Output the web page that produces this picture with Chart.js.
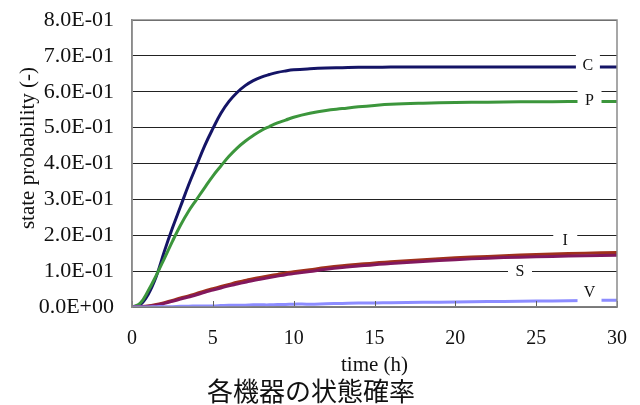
<!DOCTYPE html>
<html>
<head>
<meta charset="utf-8">
<script src="https://cdn.jsdelivr.net/npm/chart.js@4/dist/chart.umd.min.js"></script>
<style>
html,body{margin:0;padding:0;background:#fff;}
#wrap{width:640px;height:405px;position:relative;}
</style>
</head>
<body>
<div id="wrap"><canvas id="c" width="640" height="405"></canvas></div>
<script>
// ---- data ----
const timeH = [0,0.5,1,1.5,2,2.5,3,3.5,4,4.5,5,5.5,6,6.5,7,7.5,8,8.5,9,9.5,10,11,12,13,14,15,16,18,20,22,24,26,28,30];
const seriesC = [0,0.006,0.035,0.085,0.155,0.22,0.28,0.34,0.395,0.45,0.497,0.54,0.573,0.598,0.617,0.631,0.641,0.648,0.654,0.658,0.661,0.664,0.666,0.667,0.668,0.668,0.669,0.669,0.669,0.669,0.669,0.669,0.669,0.669];
const seriesP = [0,0.01,0.045,0.088,0.135,0.183,0.228,0.267,0.30,0.333,0.365,0.393,0.42,0.443,0.462,0.478,0.492,0.503,0.513,0.521,0.529,0.540,0.548,0.553,0.558,0.562,0.565,0.568,0.570,0.571,0.572,0.572,0.573,0.573];
const seriesI = [0,0.001,0.003,0.007,0.012,0.018,0.025,0.031,0.038,0.045,0.051,0.057,0.063,0.069,0.074,0.079,0.083,0.087,0.091,0.095,0.098,0.104,0.110,0.115,0.119,0.123,0.126,0.132,0.137,0.141,0.145,0.148,0.150,0.152];
const seriesS = [0,0.001,0.002,0.005,0.010,0.016,0.022,0.028,0.034,0.041,0.047,0.053,0.059,0.064,0.069,0.074,0.078,0.082,0.086,0.090,0.093,0.099,0.105,0.110,0.114,0.118,0.121,0.127,0.132,0.136,0.139,0.141,0.143,0.144];
const seriesV = [0,0,0,0.001,0.001,0.001,0.002,0.002,0.003,0.003,0.003,0.004,0.005,0.005,0.005,0.006,0.006,0.006,0.007,0.007,0.008,0.008,0.009,0.010,0.011,0.011,0.012,0.013,0.014,0.015,0.016,0.017,0.018,0.019];
const seriesNames = ["C","P","I","S","V"];
const xTicks = [0,5,10,15,20,25,30];
const yTicks = [0,0.1,0.2,0.3,0.4,0.5,0.6,0.7,0.8];
const xTitle = "time (h)";
const yTitle = "state probability (-)";
const caption = "各機器の状態確率";

// ---- styling / label anchors ----
const colors = {C:"#141466", P:"#3c963c", I:"#a0301c", S:"#82185e", V:"#8c8cff"};
const labelAnchors = {C:[28.2,0.675], P:[28.3,0.577], I:[26.8,0.186], S:[24.0,0.100], V:[28.3,0.042]};

function pts(arr){ return timeH.map((t,i)=>({x:t,y:arr[i]})); }
const dataMap = {C:seriesC,P:seriesP,I:seriesI,S:seriesS,V:seriesV};
const drawOrder = ["V","S","I","P","C"];

function fmtExp(v){
  if (Math.abs(v) < 1e-12) return "0.0E+00";
  const s = v.toExponential(1).toUpperCase();
  const m = s.split("E");
  let e = parseInt(m[1],10);
  const sign = e < 0 ? "-" : "+";
  e = Math.abs(e);
  return m[0] + "E" + sign + (e<10?"0":"") + e;
}

const serif = "'Liberation Serif','Times New Roman',serif";

const decor = {
  id:'decor',
  afterDatasetsDraw(chart){
    const ctx = chart.ctx, xs = chart.scales.x, ys = chart.scales.y, ca = chart.chartArea;
    ctx.save();
    // inward tick marks on x axis
    ctx.strokeStyle = "#606060"; ctx.lineWidth = 1;
    xTicks.forEach(t=>{
      const px = Math.round(xs.getPixelForValue(t))+0.5;
      ctx.beginPath(); ctx.moveTo(px, ca.bottom); ctx.lineTo(px, ca.bottom-6); ctx.stroke();
    });
    // series labels with white background
    ctx.font = "16px " + serif;
    ctx.textAlign = "center"; ctx.textBaseline = "middle";
    seriesNames.forEach(n=>{
      const a = labelAnchors[n];
      const px = xs.getPixelForValue(a[0]), py = ys.getPixelForValue(a[1]);
      const hh = (n==="C"||n==="P"||n==="V") ? 22 : 14;
      ctx.fillStyle = "#fff";
      ctx.fillRect(px-12, py-hh/2, 24, hh);
      ctx.fillStyle = "#111";
      ctx.fillText(n, px, py+1);
    });
    // plot border
    ctx.strokeStyle = "#8a8a8a"; ctx.lineWidth = 1.5;
    ctx.strokeRect(ca.left, ca.top, ca.right-ca.left, ca.bottom-ca.top);
    ctx.restore();
  },
  afterDraw(chart){
    const ctx = chart.ctx, ca = chart.chartArea;
    ctx.save();
    ctx.fillStyle = "#111";
    ctx.textAlign = "center"; ctx.textBaseline = "middle";
    ctx.font = "21px " + serif;
    ctx.fillText(xTitle, (ca.left+ca.right)/2, 365);
    ctx.save();
    ctx.translate(28, 148);
    ctx.rotate(-Math.PI/2);
    ctx.fillText(yTitle, 0, 0);
    ctx.restore();
    ctx.font = "26px 'Noto Sans CJK JP',sans-serif";
    ctx.fillText(caption, 311, 391);
    ctx.restore();
  }
};

new Chart(document.getElementById('c'), {
  type:'line',
  data:{
    datasets: drawOrder.map(n=>({
      label:n,
      data:pts(dataMap[n]),
      borderColor:colors[n],
      backgroundColor:colors[n],
      borderWidth:3,
      pointRadius:0,
      tension:0.4,
      fill:false
    }))
  },
  options:{
    responsive:false,
    animation:false,
    layout:{padding:{left:0,right:23,top:20,bottom:0}},
    plugins:{legend:{display:false},tooltip:{enabled:false},title:{display:false}},
    scales:{
      x:{
        type:'linear', min:0, max:30,
        afterBuildTicks(s){ s.ticks = xTicks.map(v=>({value:v})); },
        afterFit(s){ s.height = 98; s.paddingLeft = 0; s.paddingRight = 0; },
        grid:{display:false, drawTicks:false},
        border:{display:true, color:"#606060", width:1.5},
        ticks:{padding:20, color:"#111", font:{family:serif, size:20}, maxRotation:0,
               callback:(v)=>String(v)}
      },
      y:{
        type:'linear', min:0, max:0.8,
        afterBuildTicks(s){ s.ticks = yTicks.map(v=>({value:v})); },
        afterFit(s){ s.width = 132; s.paddingTop = 0; s.paddingBottom = 0; },
        grid:{color:"#222", lineWidth:1, drawTicks:false},
        border:{display:true, color:"#8a8a8a", width:1.5},
        ticks:{padding:18, color:"#111", font:{family:serif, size:22},
               callback:(v)=>fmtExp(v)}
      }
    }
  },
  plugins:[decor]
});
</script>
</body>
</html>
